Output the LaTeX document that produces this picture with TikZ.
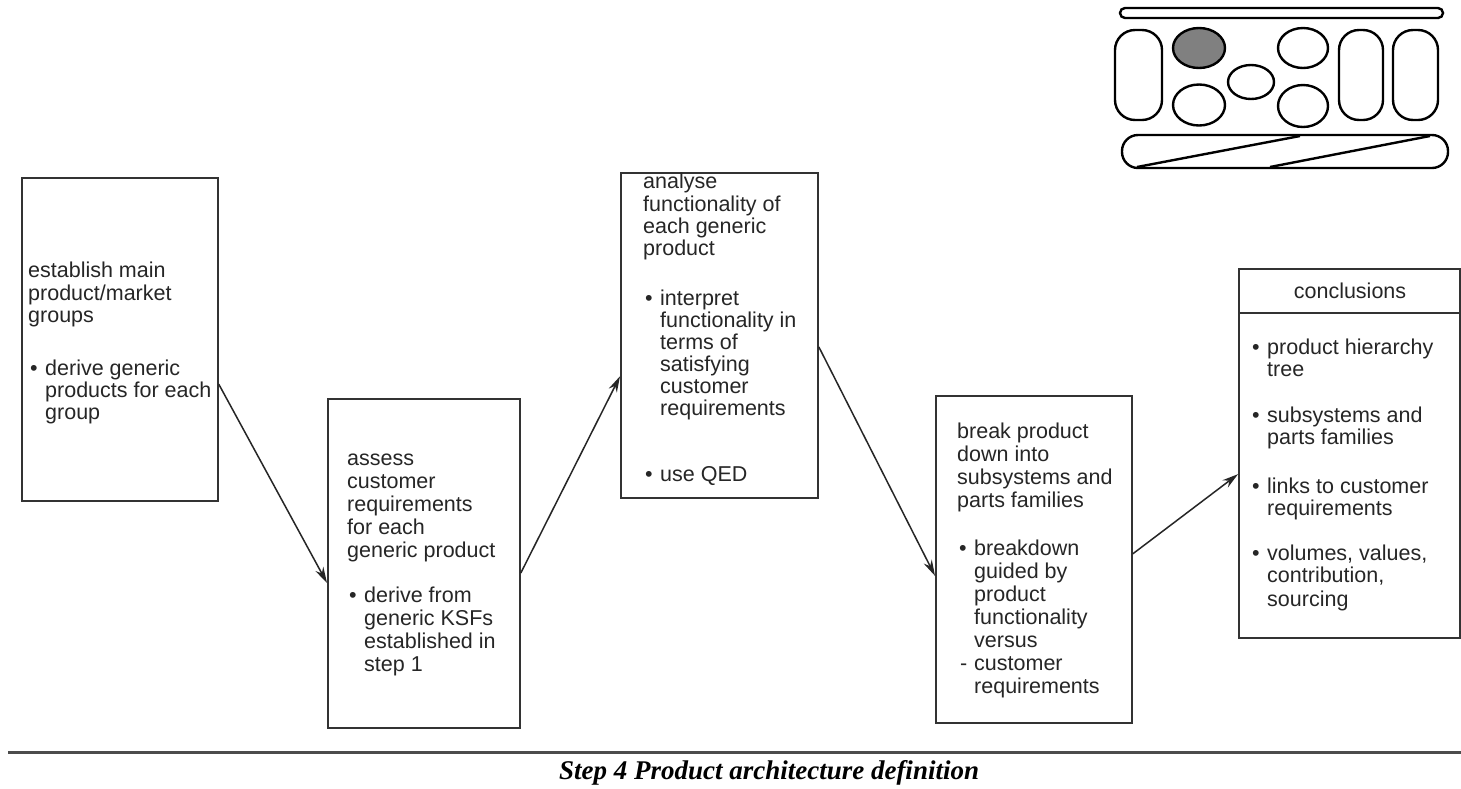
\documentclass[tikz,border=0pt]{standalone}
\usepackage{fontspec}
\setmainfont{Liberation Sans}
\newfontfamily\captionserif{Liberation Serif}
\usetikzlibrary{arrows.meta,calc}

\tikzset{
  stepbox/.style={draw=black!80, line width=1.8pt, rectangle, inner sep=0pt, anchor=north west},
  boxtext/.style={anchor=north west, align=left, inner sep=0pt,
    font=\fontsize{21.5}{22}\selectfont, text=black!85},
  widetext/.style={boxtext, font=\fontsize{21.5}{23}\selectfont},
  link/.style={draw=black!85, line width=1.5pt, -{Stealth[length=16pt,width=9pt]}},
  icon/.style={draw=black, line width=2.4pt},
}
\newcommand{\bul}{\makebox[17pt][l]{\hspace{2pt}\textbullet}}
\newcommand{\ind}{\hspace*{17pt}}

\begin{document}
\begin{tikzpicture}[x=1pt,y=-1pt]
\useasboundingbox (0,0) rectangle (1461,788);
\fill[white] (0,0) rectangle (1461,788);

% step boxes
\node[stepbox, minimum width=196pt, minimum height=323pt] (b1) at (21,177) {};
\node[stepbox, minimum width=192pt, minimum height=329pt] (b2) at (327,398) {};
\node[stepbox, minimum width=197pt, minimum height=325pt] (b3) at (620,172) {};
\node[stepbox, minimum width=196pt, minimum height=327pt] (b4) at (935,395) {};
\node[stepbox, minimum width=221pt, minimum height=369pt] (b5) at (1238,268) {};
\draw[draw=black!80, line width=1.8pt] (b5.west |- 0,313) -- (b5.east |- 0,313);

% box texts (each starts with a strut so the first baseline sits a strut height below the anchor)
\node[boxtext] (t1) at (28,261.6) {\strut establish main\\product/market\\groups\\[31pt]\bul derive generic\\\ind products for each\\\ind group};
\node[widetext] (t2) at (347,448.9) {\strut assess\\customer\\requirements\\for each\\generic product\\[22pt]\bul derive from\\\ind generic KSFs\\\ind established in\\\ind step 1};
\node[boxtext] (t3) at (643,173) {\strut analyse\\functionality of\\each generic\\product\\[28pt]\bul interpret\\\ind functionality in\\\ind terms of\\\ind satisfying\\\ind customer\\\ind requirements\\[44pt]\bul use QED};
\node[widetext] (t4) at (957,421.9) {\strut break product\\down into\\subsystems and\\parts families\\[25pt]\bul breakdown\\\ind guided by\\\ind product\\\ind functionality\\\ind versus\\\makebox[17pt][l]{\hspace{3pt}-}customer\\\ind requirements};
\node[boxtext, anchor=base] (t5h) at (1350,298) {conclusions};
\node[boxtext] (t5) at (1250,338.6) {\strut\bul product hierarchy\\\ind tree\\[24pt]\bul subsystems and\\\ind parts families\\[27pt]\bul links to customer\\\ind requirements\\[23pt]\bul volumes, values,\\\ind contribution,\\[2pt]\ind sourcing};

% connectors
\draw[link] ($(b1.north east)!0.638!(b1.south east)$) -- ($(b2.north west)!0.559!(b2.south west)$);
\draw[link] ($(b2.north east)!0.529!(b2.south east)$) -- ($(b3.north west)!0.625!(b3.south west)$);
\draw[link] ($(b3.north east)!0.535!(b3.south east)$) -- ($(b4.north west)!0.55!(b4.south west)$);
\draw[link] ($(b4.north east)!0.483!(b4.south east)$) -- ($(b5.north west)!0.556!(b5.south west)$);

% architecture icon
\draw[icon, rounded corners=5pt] (1120,8) rectangle (1443,18);
\draw[icon, rounded corners=20pt] (1115,30) rectangle (1162,120);
\draw[icon, rounded corners=20pt] (1339,30) rectangle (1383,120);
\draw[icon, rounded corners=20pt] (1393,30) rectangle (1438,120);
\draw[icon, fill=black!50] (1199,48) ellipse [x radius=26pt, y radius=20pt];
\draw[icon] (1199,105) ellipse [x radius=26pt, y radius=20.5pt];
\draw[icon] (1251,82) ellipse [x radius=23pt, y radius=17pt];
\draw[icon] (1303,48) ellipse [x radius=25pt, y radius=20pt];
\draw[icon] (1303,106) ellipse [x radius=25pt, y radius=21pt];
\draw[icon, rounded corners=16pt] (1122,135) rectangle (1448,168);
\draw[icon] (1137,167) -- (1300,136);
\draw[icon] (1270,167) -- (1430,136);

% caption rule and title
\draw[line width=3pt, black!70] (8,752) -- (1461,752);
\node[inner sep=0pt, font=\captionserif\bfseries\itshape\fontsize{27}{29}\selectfont] (cap) at (769,773) {Step 4 Product architecture definition};
\end{tikzpicture}
\end{document}
